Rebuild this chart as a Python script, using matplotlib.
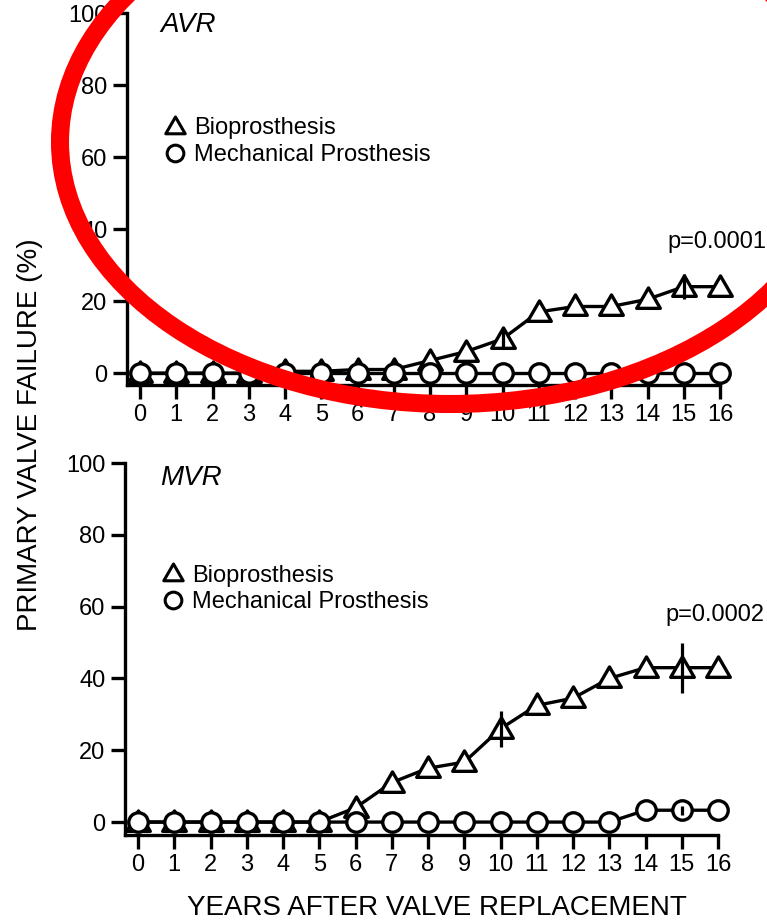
import matplotlib
matplotlib.use("Agg")
import matplotlib.pyplot as plt
from matplotlib.lines import Line2D
from matplotlib.patches import Ellipse
from matplotlib.path import Path
import numpy as np

plt.rcParams['font.family'] = ['Liberation Sans', 'DejaVu Sans']

years = list(range(17))
xtick_labels = [str(y) for y in years]
yticks = [0, 20, 40, 60, 80, 100]

avr_bio = [0, 0, 0, 0, 0.5, 0.5, 1, 1, 3.5, 6, 9.5, 17, 18.5, 18.5, 20.5, 24, 24]
avr_bio_err = [0, 0, 0, 0, 0, 0, 0, 0, 0, 0, 2.5, 0, 0, 0, 0, 3.5, 0]
avr_mech = [0] * 17
avr_mech_err = [0] * 17

mvr_bio = [0, 0, 0, 0, 0, 0, 4, 11, 15, 16.7, 26, 32.5, 34.5, 40, 43, 43, 43]
mvr_bio_err = [0, 0, 0, 0, 0, 0, 0, 0, 0, 0, 5, 0, 0, 0, 0, 7, 0]
mvr_mech = [0, 0, 0, 0, 0, 0, 0, 0, 0, 0, 0, 0, 0, 0, 3.3, 3.3, 3.3]
mvr_mech_err = [0, 0, 0, 0, 0, 0, 0, 0, 0, 0, 0, 0, 0, 0, 0, 1.2, 0]

labels = ["Bioprosthesis", "Mechanical Prosthesis"]
panels = ["AVR", "MVR"]
pvalues = ["p=0.0001", "p=0.0002"]

W, H = 767, 923
fig = plt.figure(figsize=(W / 100, H / 100), dpi=100)

tri = Path([(-1, -0.75), (1, -0.75), (0, 0.98), (-1, -0.75)],
           [Path.MOVETO, Path.LINETO, Path.LINETO, Path.CLOSEPOLY])
LW = 2.4


def px_axes(l, r, t, b):
    return fig.add_axes([l / W, 1 - b / H, (r - l) / W, (b - t) / H])


def draw(ax, bio, bio_err, mech, mech_err, title, pval, ymin, leg_xy, title_xy, p_xy):
    ax.plot(years, bio, color='black', lw=LW, marker=tri, ms=17, mfc='white',
            mec='black', mew=2.4, zorder=3, clip_on=False)
    ax.plot(years, mech, color='black', lw=LW, marker='o', ms=14, mfc='white',
            mec='black', mew=2.4, zorder=4, clip_on=False)
    ax.errorbar(years, bio, yerr=bio_err, fmt='none', ecolor='black', elinewidth=2.3,
                capsize=0, zorder=5, clip_on=False)
    ax.errorbar(years, mech, yerr=mech_err, fmt='none', ecolor='black', elinewidth=2.3,
                capsize=0, zorder=5, clip_on=False)
    ax.set_xlim(-0.36, 16)
    ax.set_ylim(ymin, 100)
    ax.set_xticks(years)
    ax.set_xticklabels(xtick_labels)
    ax.set_yticks(yticks)
    for s in ['top', 'right']:
        ax.spines[s].set_visible(False)
    for s in ['left', 'bottom']:
        ax.spines[s].set_linewidth(2.4)
    ax.tick_params(axis='x', length=10, width=2.4, pad=4, labelsize=17, direction='out')
    ax.tick_params(axis='y', length=10, width=2.4, pad=4, labelsize=17, direction='out')
    handles = [Line2D([], [], ls='none', marker=tri, ms=14, mfc='white', mec='black', mew=2.2),
               Line2D([], [], ls='none', marker='o', ms=12, mfc='white', mec='black', mew=2.2)]
    ax.legend(handles, labels, loc='upper left', bbox_to_anchor=leg_xy, frameon=False,
              fontsize=17, handlelength=0.85, handletextpad=0.4, labelspacing=0.19,
              borderpad=0, borderaxespad=0)
    ax.text(title_xy[0], title_xy[1], title, transform=ax.transAxes, fontsize=20,
            style='italic', va='center', ha='left')
    ax.text(p_xy[0], p_xy[1], pval, transform=ax.transAxes, fontsize=17,
            va='center', ha='left')


ax1 = px_axes(127, 720, 13, 385)
draw(ax1, avr_bio, avr_bio_err, avr_mech, avr_mech_err, panels[0], pvalues[0], -3.3,
     (0.064, 0.7195), (0.056, 0.968), (0.912, 0.385))

ax2 = px_axes(125, 718, 463, 835)
draw(ax2, mvr_bio, mvr_bio_err, mvr_mech, mvr_mech_err, panels[1], pvalues[1], -3.6,
     (0.064, 0.7265), (0.059, 0.96), (0.911, 0.591))

fig.text(30 / W, 1 - 435 / H, "PRIMARY VALVE FAILURE (%)", rotation=90,
         ha='center', va='center', fontsize=20)
fig.text(437 / W, 1 - 908 / H, "YEARS AFTER VALVE REPLACEMENT",
         ha='center', va='center', fontsize=20)

# red hand-drawn ellipse annotation overlay
ov = fig.add_axes([0, 0, 1, 1], zorder=10)
ov.set_xlim(0, W)
ov.set_ylim(H, 0)
ov.axis('off')
ov.patch.set_alpha(0)
ov.add_patch(Ellipse((450, 142), 780, 524, fill=False, ec='#ff0000', lw=13))

fig.savefig("out.png", dpi=100)
